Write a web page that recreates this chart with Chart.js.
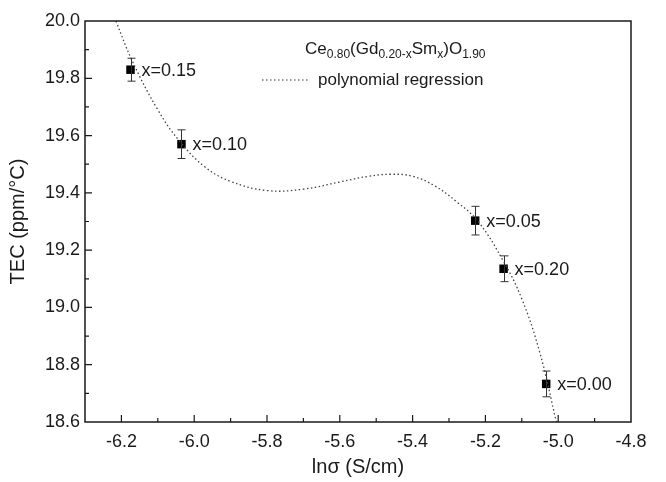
<!DOCTYPE html>
<html>
<head>
<meta charset="utf-8">
<script src="https://cdn.jsdelivr.net/npm/chart.js@4/dist/chart.umd.min.js"></script>
<style>
  html, body { margin: 0; padding: 0; background: #fff; }
  #wrap { width: 666px; height: 482px; }
</style>
</head>
<body>
<div id="wrap"><canvas id="tecChart" width="666" height="482"></canvas></div>
<script>
// measured samples (composition label, ln sigma, TEC, error)
const compositions = ["x=0.15", "x=0.10", "x=0.05", "x=0.20", "x=0.00"];
const lnSigma = [-6.175, -6.035, -5.228, -5.150, -5.033];
const tec = [19.83, 19.57, 19.303, 19.135, 18.733];
const tecErr = [0.04, 0.05, 0.05, 0.045, 0.045];

// polynomial regression curve
const fitX = [-6.215, -6.17, -6.10, -6.04, -5.97, -5.90, -5.80, -5.70, -5.60, -5.52, -5.46, -5.40, -5.34, -5.28, -5.22, -5.15, -5.10, -5.05, -5.005];
const fitY = [20.0, 19.86, 19.69, 19.58, 19.49, 19.44, 19.408, 19.413, 19.438, 19.458, 19.465, 19.458, 19.425, 19.37, 19.30, 19.16, 19.03, 18.84, 18.6];

const fontFam = "'Liberation Sans', Arial, sans-serif";
const ink = "#1a1a1a";

const isMajor = v => Math.round(v * 10) % 2 === 0;

// frame + inward ticks, error bars, point labels, legend
const decorPlugin = {
    id: "decor",
    afterDatasetsDraw(chart) {
        const ctx = chart.ctx;
        const area = chart.chartArea;
        const xs = chart.scales.x;
        const ys = chart.scales.y;
        ctx.save();

        // error bars
        ctx.strokeStyle = "#333";
        ctx.lineWidth = 1;
        for (let i = 0; i < lnSigma.length; i++) {
            const px = Math.round(xs.getPixelForValue(lnSigma[i])) + 0.5;
            const top = ys.getPixelForValue(tec[i] + tecErr[i]);
            const bot = ys.getPixelForValue(tec[i] - tecErr[i]);
            ctx.beginPath();
            ctx.moveTo(px, top); ctx.lineTo(px, bot);
            ctx.moveTo(px - 4, top); ctx.lineTo(px + 4, top);
            ctx.moveTo(px - 4, bot); ctx.lineTo(px + 4, bot);
            ctx.stroke();
        }

        // labels next to points
        ctx.fillStyle = ink;
        ctx.font = "18px " + fontFam;
        ctx.textBaseline = "middle";
        ctx.textAlign = "left";
        for (let i = 0; i < lnSigma.length; i++) {
            ctx.fillText(compositions[i], xs.getPixelForValue(lnSigma[i]) + 11, ys.getPixelForValue(tec[i]) + 1);
        }

        // frame
        ctx.strokeStyle = ink;
        ctx.lineWidth = 1.5;
        ctx.strokeRect(area.left, area.top, area.right - area.left, area.bottom - area.top);

        // inward ticks
        ctx.lineWidth = 1.2;
        ctx.beginPath();
        xs.ticks.forEach(t => {
            const p = xs.getPixelForValue(t.value);
            if (p <= area.left + 1 || p >= area.right - 1) return;
            const len = isMajor(t.value) ? 7 : 4;
            ctx.moveTo(p, area.bottom); ctx.lineTo(p, area.bottom - len);
        });
        ys.ticks.forEach(t => {
            const p = ys.getPixelForValue(t.value);
            if (p <= area.top + 1 || p >= area.bottom - 1) return;
            const len = isMajor(t.value) ? 7 : 4;
            ctx.moveTo(area.left, p); ctx.lineTo(area.left + len, p);
        });
        ctx.stroke();

        // legend block: formula with subscripts
        let lx = 305, ly = 54;
        const big = "17px " + fontFam, small = "12px " + fontFam;
        const parts = [["Ce", 0], ["0.80", 1], ["(Gd", 0], ["0.20-x", 1], ["Sm", 0], ["x", 1], [")O", 0], ["1.90", 1]];
        ctx.textBaseline = "alphabetic";
        parts.forEach(p => {
            ctx.font = p[1] ? small : big;
            ctx.fillText(p[0], lx, ly + (p[1] ? 4 : 0));
            lx += ctx.measureText(p[0]).width;
        });

        // legend sample line
        ctx.strokeStyle = "#333";
        ctx.lineWidth = 1.2;
        ctx.setLineDash([1.5, 2.5]);
        ctx.beginPath();
        ctx.moveTo(262, 80); ctx.lineTo(310, 80);
        ctx.stroke();
        ctx.setLineDash([]);
        ctx.font = "17px " + fontFam;
        ctx.textBaseline = "middle";
        ctx.fillText("polynomial regression", 318, 80);

        ctx.restore();
    }
};

const fitData = fitX.map((x, i) => ({x: x, y: fitY[i]}));
const pointData = lnSigma.map((x, i) => ({x: x, y: tec[i]}));

new Chart(document.getElementById("tecChart"), {
    type: "scatter",
    data: {
        datasets: [{
            label: "polynomial regression",
            data: fitData,
            showLine: true,
            borderColor: "#444",
            borderWidth: 1.3,
            borderDash: [1.5, 2.5],
            pointRadius: 0,
            tension: 0.4,
            clip: 0
        }, {
            label: "TEC",
            data: pointData,
            pointStyle: "rect",
            pointRadius: 6,
            backgroundColor: "#000",
            borderColor: "#000",
            borderWidth: 0
        }]
    },
    options: {
        responsive: false,
        animation: false,
        devicePixelRatio: 1,
        layout: {padding: {left: 0, right: 35, top: 21, bottom: 0}},
        plugins: {legend: {display: false}, tooltip: {enabled: false}},
        scales: {
            x: {
                type: "linear",
                min: -6.3,
                max: -4.8,
                afterFit: s => { s.height = 60; },
                grid: {display: false, drawTicks: false},
                border: {display: false},
                ticks: {
                    stepSize: 0.1,
                    autoSkip: false,
                    maxRotation: 0,
                    padding: 9,
                    color: ink,
                    font: {family: fontFam, size: 18},
                    callback: v => isMajor(v) ? v.toFixed(1) : ""
                },
                title: {
                    display: true,
                    text: "lnσ (S/cm)",
                    color: ink,
                    font: {family: fontFam, size: 20},
                    padding: {top: 0, bottom: 3}
                }
            },
            y: {
                min: 18.6,
                max: 20.0,
                afterFit: s => { s.width = 85; },
                grid: {display: false, drawTicks: false},
                border: {display: false},
                ticks: {
                    stepSize: 0.1,
                    autoSkip: false,
                    padding: 5,
                    color: ink,
                    font: {family: fontFam, size: 18},
                    callback: v => isMajor(v) ? v.toFixed(1) : ""
                },
                title: {
                    display: true,
                    text: "TEC (ppm/°C)",
                    color: ink,
                    font: {family: fontFam, size: 20},
                    padding: {top: 6, bottom: 0}
                }
            }
        }
    },
    plugins: [decorPlugin]
});
</script>
</body>
</html>
